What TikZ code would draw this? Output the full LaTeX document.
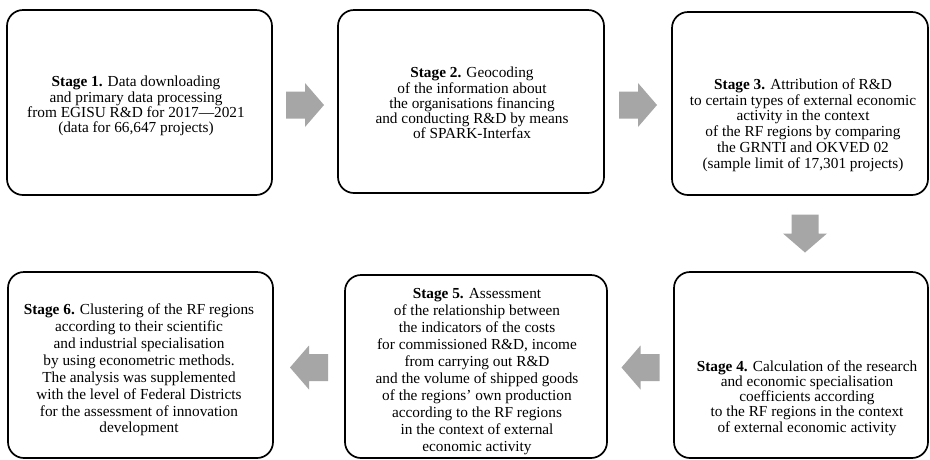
\documentclass[tikz,border=0pt]{standalone}
\usepackage{fontspec}
\setmainfont{Liberation Serif}
\usetikzlibrary{calc}
\definecolor{arrowgray}{RGB}{166,166,166}
\tikzset{
  stagebox/.style={draw=black, line width=1.7pt, rounded corners=16pt, fill=none, inner sep=0pt},
  stagetext/.style={align=center, inner sep=0pt, font=\fontsize{15.3}{#1}\selectfont},
  stagetext/.default=15.3,
  blockarrow/.style={fill=arrowgray, draw=none}
}
\newcommand{\barrowat}[2]{\fill[blockarrow, shift={(#1)}, rotate=#2] (-19,-13.5) -- (0,-13.5) -- (0,-22) -- (19,0) -- (0,22) -- (0,13.5) -- (-19,13.5) -- cycle;}
\begin{document}
\begin{tikzpicture}[x=1pt,y=-1pt]
\useasboundingbox[fill=white] (0,0) rectangle (930,459);
% boxes
\node[stagebox, minimum width=265, minimum height=185] (s1) at (139.5,102.5) {};
\node[stagebox, minimum width=266, minimum height=183] (s2) at (471,101.5) {};
\node[stagebox, minimum width=256, minimum height=183] (s3) at (800,103.5) {};
\node[stagebox, minimum width=254, minimum height=186] (s4) at (801,365) {};
\node[stagebox, minimum width=262, minimum height=183] (s5) at (476,366.5) {};
\node[stagebox, minimum width=265, minimum height=186] (s6) at (140.5,365) {};
% texts
\node[stagetext=15.2] (t1) at (136,106) {\textbf{Stage 1.} Data downloading\\and primary data processing\\from EGISU R\&D for 2017—2021\\(data for 66,647 projects)};
\node[stagetext=15.2] (t2) at (472,103) {\textbf{Stage 2.} Geocoding\\of the information about\\the organisations financing\\and conducting R\&D by means\\of SPARK-Interfax};
\node[stagetext=15.8] (t3) at (803,125) {\textbf{Stage 3.} Attribution of R\&D\\to certain types of external economic\\activity in the context\\of the RF regions by comparing\\the GRNTI and OKVED 02\\(sample limit of 17,301 projects)};
\node[stagetext=15.2] (t4) at (807,398) {\textbf{Stage 4.} Calculation of the research\\and economic specialisation\\coefficients according\\to the RF regions in the context\\of external economic activity};
\node[stagetext=17] (t5) at (477,372) {\textbf{Stage 5.} Assessment\\of the relationship between\\the indicators of the costs\\for commissioned R\&D, income\\from carrying out R\&D\\and the volume of shipped goods\\of the regions’ own production\\according to the RF regions\\in the context of external\\economic activity};
\node[stagetext=16.9] (t6) at (139,370) {\textbf{Stage 6.} Clustering of the RF regions\\according to their scientific\\and industrial specialisation\\by using econometric methods.\\The analysis was supplemented\\with the level of Federal Districts\\for the assessment of innovation\\development};
% block arrows between boxes
\path ($(s1.east)!0.5!(s2.west)$) coordinate (m12);
\path (m12 |- 0,105) coordinate (a12);
\path ($(s2.east)!0.5!(s3.west)$) coordinate (m23);
\path (m23 |- 0,105) coordinate (a23);
\path ($(s3.south)!0.5!(s4.north)$) coordinate (m34);
\path (805,0 |- m34) coordinate (a34);
\path ($(s4.west)!0.5!(s5.east)$) coordinate (m45);
\path (m45 |- 0,367.5) coordinate (a45);
\path ($(s5.west)!0.5!(s6.east)$) coordinate (m56);
\path (m56 |- 0,367.5) coordinate (a56);
\barrowat{a12}{0}
\barrowat{a23}{0}
\barrowat{a34}{-90}
\barrowat{a45}{180}
\barrowat{a56}{180}
\end{tikzpicture}
\end{document}
